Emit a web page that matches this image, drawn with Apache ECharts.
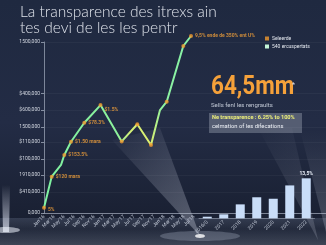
<!DOCTYPE html>
<html><head><meta charset="utf-8">
<script src="https://cdn.jsdelivr.net/npm/echarts@6/dist/echarts.min.js"></script>
<style>html,body{margin:0;padding:0;background:#1c2438}#c{width:326px;height:245px}</style>
</head><body><div id="c"></div>
<script>
const titleLines = ["La transparence des itrexs ain", "tes devi de les les pentr"];
const yTickValues = [0, 126, 228, 324, 426, 516, 617, 715, 1025];
const yTickLabels = ["0,000", "$410,000", "1910,000", "$100,000", "$110,000", "1500,000", "$600,000", "$400,000", "1500,000"];
const xTickLabels = ["Jan'16","Mar'16","May'16","Jul'16","Sep'16","Nov'16","Jan'17","Mar'17","May'17","Jul'17","Sep'17","Nov'17","Jan'18","Mar'18","May'18","Jul'18"];
const lineX = [0, 0.77, 1.7, 2.03, 2.7, 4.03, 5.65, 7.77, 9.33, 10.7, 11.6, 12.27, 13.93, 14.7];
const lineY = [32, 218, 288, 348, 427, 541, 647, 429, 532, 408, 617, 667, 1001, 1061];
const marked = [1, 1, 0, 1, 1, 1, 1, 1, 1, 1, 0, 1, 1, 1];
const pointLabels = ["5%", "$120 mara", "", "$153.5%", "$1.50 mara", "$78.3%", "$1.5%", "", "", "", "", "", "", "9,5% ende de 350% ent U%"];
const barCats = ["2016/0", "2017", "2018", "2019", "2020", "2021", "2022"];
const barValues = [0.54, 1.35, 4.7, 7.1, 6.6, 11.1, 13.5];
const barLabels = ["", "", "", "", "", "", "13,5%"];
const seriesNames = ["Seleerde", "540 ercuspertats"];
const bigValue = "64,5mm";
const bigSub = "Sells fenl les rengraults";
const noteLines = ["Ne transparence : 6.25% to 100%", "celmation of les difecations"];

const chart = echarts.init(document.getElementById('c'), null, {renderer: 'canvas'});
const G = echarts.graphic;
const lineData = lineX.map((x, i) => [x, lineY[i]]);
const markerData = [];
lineX.forEach((x, i) => { if (marked[i]) markerData.push({value: [x, lineY[i]], label: {show: !!pointLabels[i], formatter: pointLabels[i], offset: i === 6 ? [0, 5] : (i === 0 ? [0, 2] : [0, 0])}}); });

const beamGrad = (x0, y0, x1, y1, a) => new G.LinearGradient(x0, y0, x1, y1, [{offset: 0, color: 'rgba(235,240,255,' + a + ')'}, {offset: 1, color: 'rgba(235,240,255,0)'}]);

chart.setOption({
  backgroundColor: new G.LinearGradient(0, 0, 0, 1, [
    {offset: 0, color: '#1f2940'}, {offset: 0.5, color: '#232c45'}, {offset: 1, color: '#171d2d'}]),
  animation: false,
  graphic: [
    {type: 'rect', z: 0, shape: {x: 0, y: 218, width: 326, height: 27}, style: {fill: new G.LinearGradient(0, 0, 0, 1, [{offset: 0, color: 'rgba(170,185,215,0.18)'}, {offset: 0.4, color: 'rgba(170,185,215,0.08)'}, {offset: 1, color: 'rgba(200,210,230,0.22)'}])}},
    {type: 'polygon', z: 0, shape: {points: [[200, 236], [112, 140], [160, 128]]}, style: {fill: beamGrad(1, 1, 0, 0, 0.32)}},
    {type: 'polygon', z: 0, shape: {points: [[318, 240], [258, 128], [292, 128]]}, style: {fill: beamGrad(1, 1, 0, 0, 0.18)}},
    {type: 'polygon', z: 0, shape: {points: [[326, 232], [300, 130], [326, 130]]}, style: {fill: beamGrad(0, 1, 0, 0, 0.22)}},
    {type: 'polygon', z: 0, shape: {points: [[2, 185], [10, 185], [9, 232], [3, 232]]}, style: {fill: beamGrad(0, 1, 0, 0, 0.7)}},
    {type: 'ellipse', z: 0, shape: {cx: 6, cy: 230, rx: 14, ry: 3}, style: {fill: 'rgba(240,245,255,0.55)'}},
    {type: 'ellipse', z: 0, shape: {cx: 200, cy: 236, rx: 40, ry: 5}, style: {fill: 'rgba(225,232,250,0.22)'}},
    {type: 'ellipse', z: 0, shape: {cx: 200, cy: 236, rx: 5, ry: 2}, style: {fill: 'rgba(255,255,255,0.8)'}},
    {type: 'text', z: 5, left: 20, top: 4, style: {text: titleLines.join('\n'), fill: '#dfe3eb', font: '300 15.5px Lato', lineHeight: 16}},
    {type: 'text', z: 5, left: 211, top: 75, scaleX: 0.9, style: {text: bigValue, fill: '#f5a13a', font: 'bold 25px Roboto'}},
    {type: 'text', z: 5, left: 292, top: 82, style: {text: '*', fill: '#d8dce6', font: '7px Roboto'}},
    {type: 'text', z: 5, left: 211, top: 102, style: {text: bigSub, fill: '#c2c9d6', font: '6px Roboto'}},
    {type: 'rect', z: 4, shape: {x: 209, y: 113, width: 93, height: 20}, style: {fill: 'rgba(215,222,235,0.28)'}},
    {type: 'text', z: 5, left: 212, top: 115, style: {text: noteLines[0], fill: '#eef07a', font: 'bold 5.6px Roboto'}},
    {type: 'text', z: 5, left: 212, top: 124, style: {text: noteLines[1], fill: '#eef1f6', font: '5.8px Roboto'}}
  ],
  legend: {
    orient: 'vertical', left: 260, top: 31, itemWidth: 4, itemHeight: 4, itemGap: 3,
    textStyle: {color: '#e4e8ef', fontSize: 5, fontFamily: 'Roboto', padding: [0, 0, 0, -2]},
    data: [{name: seriesNames[0], icon: 'rect', itemStyle: {color: '#f0982e'}}, {name: seriesNames[1], icon: 'rect', itemStyle: {color: '#c4f5d6'}}]
  },
  grid: [
    {left: 44, top: 42, width: 282, height: 171},
    {left: 199, width: 115.5, top: 170.9, height: 47.4}
  ],
  xAxis: [
    {type: 'value', gridIndex: 0, min: 0, max: 28.2, splitLine: {show: false},
      axisLine: {show: true, lineStyle: {color: 'rgba(200,210,225,0.55)', width: 1}},
      axisTick: {show: false},
      axisLabel: {customValues: xTickLabels.map((_, i) => i), formatter: v => xTickLabels[Math.round(v)], rotate: 45, fontSize: 5, color: '#bfc6d4', margin: 3, fontFamily: 'Roboto'}},
    {type: 'category', gridIndex: 1, data: barCats,
      axisLine: {show: true, lineStyle: {color: 'rgba(210,220,235,0.4)'}}, axisTick: {show: false},
      axisLabel: {rotate: 45, fontSize: 5, color: '#bfc6d4', margin: 3, fontFamily: 'Roboto', interval: 0}}
  ],
  yAxis: [
    {type: 'value', gridIndex: 0, min: 0, max: 1025,
      axisLine: {show: true, lineStyle: {color: 'rgba(200,210,225,0.55)'}},
      axisTick: {show: true, length: 3, customValues: yTickValues, lineStyle: {color: 'rgba(200,210,225,0.6)'}},
      splitLine: {show: true, customValues: yTickValues, lineStyle: {color: 'rgba(255,255,255,0.04)'}},
      axisLabel: {customValues: yTickValues, formatter: v => yTickLabels[yTickValues.indexOf(v)], fontSize: 5, color: '#d2d7e0', margin: 4, fontFamily: 'Roboto'}},
    {type: 'value', gridIndex: 1, min: 0, max: 16, show: false}
  ],
  series: [
    {name: seriesNames[1], type: 'line', xAxisIndex: 0, yAxisIndex: 0, data: lineData, clip: false, symbol: 'none', z: 3,
      lineStyle: {width: 2, color: new G.LinearGradient(0, 0, 1, 0, [
        {offset: 0, color: '#7ef2a2'}, {offset: 0.5, color: '#8cf29c'}, {offset: 0.58, color: '#d2f078'},
        {offset: 0.72, color: '#dcf070'}, {offset: 0.79, color: '#8ef2a0'}, {offset: 1, color: '#84f2a8'}])}},
    {name: seriesNames[0], type: 'scatter', xAxisIndex: 0, yAxisIndex: 0, data: markerData, clip: false, symbol: 'circle', symbolSize: 4, z: 4,
      itemStyle: {color: '#f0982e'},
      label: {position: 'right', distance: 2, color: '#f5a23a', fontSize: 5, fontWeight: 'bold', fontFamily: 'Roboto'}},
    {type: 'bar', xAxisIndex: 1, yAxisIndex: 1, data: barValues, barWidth: 9, z: 3,
      itemStyle: {color: '#c9ddf8'},
      label: {show: true, position: 'top', distance: 2, formatter: p => barLabels[p.dataIndex], color: '#e8eef8', fontSize: 5, fontWeight: 'bold', fontFamily: 'Roboto'}}
  ]
});
</script></body></html>
